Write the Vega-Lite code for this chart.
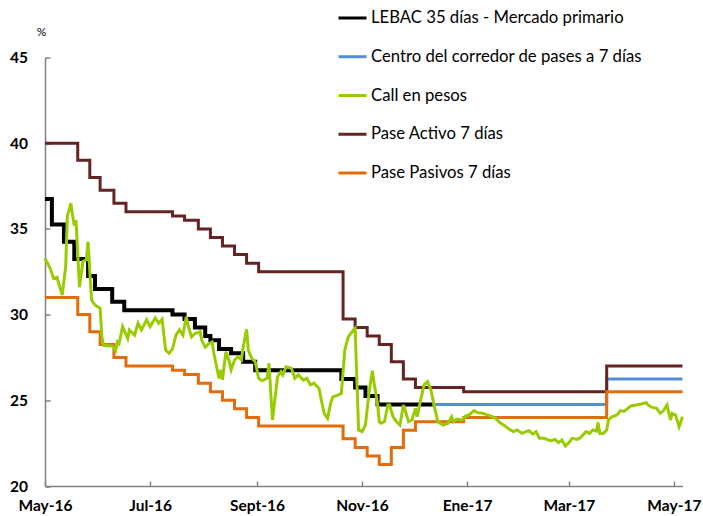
{
  "$schema": "https://vega.github.io/schema/vega-lite/v6.json",
  "width": 637.5,
  "height": 428.5,
  "autosize": {"type": "none"},
  "padding": {"left": 45, "top": 57.5, "right": 20.5, "bottom": 30},
  "background": "white",
  "config": {
    "view": {"stroke": null},
    "font": "Lato",
    "axis": {
      "grid": false,
      "domainColor": "#808080",
      "domainWidth": 1.5,
      "tickColor": "#808080",
      "tickWidth": 1.5,
      "labelFont": "Lato",
      "labelFontWeight": "bold",
      "labelFontSize": 15.5,
      "labelColor": "#000000"
    },
    "legend": {
      "orient": "none",
      "legendX": 292,
      "legendY": -55,
      "direction": "vertical",
      "symbolType": "stroke",
      "symbolSize": 784,
      "symbolStrokeWidth": 3,
      "labelFont": "Lato",
      "labelFontSize": 16.7,
      "labelColor": "#000000",
      "labelOffset": 3,
      "rowPadding": 13.75,
      "padding": 0,
      "labelLimit": 400
    }
  },
  "data": {
    "values": [
      {"s": "LEBAC 35 días - Mercado primario", "d": "2016-05-01", "v": 36.75},
      {"s": "LEBAC 35 días - Mercado primario", "d": "2016-05-05", "v": 35.25},
      {"s": "LEBAC 35 días - Mercado primario", "d": "2016-05-12", "v": 34.25},
      {"s": "LEBAC 35 días - Mercado primario", "d": "2016-05-18", "v": 33.25},
      {"s": "LEBAC 35 días - Mercado primario", "d": "2016-05-26", "v": 32.25},
      {"s": "LEBAC 35 días - Mercado primario", "d": "2016-05-30", "v": 31.5},
      {"s": "LEBAC 35 días - Mercado primario", "d": "2016-06-09", "v": 30.75},
      {"s": "LEBAC 35 días - Mercado primario", "d": "2016-06-16", "v": 30.25},
      {"s": "LEBAC 35 días - Mercado primario", "d": "2016-07-14", "v": 30.0},
      {"s": "LEBAC 35 días - Mercado primario", "d": "2016-07-21", "v": 29.75},
      {"s": "LEBAC 35 días - Mercado primario", "d": "2016-07-27", "v": 29.25},
      {"s": "LEBAC 35 días - Mercado primario", "d": "2016-08-02", "v": 28.75},
      {"s": "LEBAC 35 días - Mercado primario", "d": "2016-08-05", "v": 28.5},
      {"s": "LEBAC 35 días - Mercado primario", "d": "2016-08-10", "v": 28.0},
      {"s": "LEBAC 35 días - Mercado primario", "d": "2016-08-17", "v": 27.75},
      {"s": "LEBAC 35 días - Mercado primario", "d": "2016-08-24", "v": 27.25},
      {"s": "LEBAC 35 días - Mercado primario", "d": "2016-08-31", "v": 26.75},
      {"s": "LEBAC 35 días - Mercado primario", "d": "2016-10-20", "v": 26.25},
      {"s": "LEBAC 35 días - Mercado primario", "d": "2016-10-28", "v": 25.75},
      {"s": "LEBAC 35 días - Mercado primario", "d": "2016-11-03", "v": 25.25},
      {"s": "LEBAC 35 días - Mercado primario", "d": "2016-11-10", "v": 24.75},
      {"s": "LEBAC 35 días - Mercado primario", "d": "2016-12-12", "v": 24.75},

      {"s": "Centro del corredor de pases a 7 días", "d": "2016-12-12", "v": 24.75},
      {"s": "Centro del corredor de pases a 7 días", "d": "2017-03-23", "v": 26.25},
      {"s": "Centro del corredor de pases a 7 días", "d": "2017-05-06", "v": 26.25},

      {"s": "Pase Activo 7 días", "d": "2016-05-01", "v": 40},
      {"s": "Pase Activo 7 días", "d": "2016-05-20", "v": 39},
      {"s": "Pase Activo 7 días", "d": "2016-05-27", "v": 38},
      {"s": "Pase Activo 7 días", "d": "2016-06-02", "v": 37.25},
      {"s": "Pase Activo 7 días", "d": "2016-06-10", "v": 36.5},
      {"s": "Pase Activo 7 días", "d": "2016-06-17", "v": 36},
      {"s": "Pase Activo 7 días", "d": "2016-07-14", "v": 35.75},
      {"s": "Pase Activo 7 días", "d": "2016-07-21", "v": 35.5},
      {"s": "Pase Activo 7 días", "d": "2016-07-29", "v": 35},
      {"s": "Pase Activo 7 días", "d": "2016-08-05", "v": 34.5},
      {"s": "Pase Activo 7 días", "d": "2016-08-12", "v": 34},
      {"s": "Pase Activo 7 días", "d": "2016-08-19", "v": 33.5},
      {"s": "Pase Activo 7 días", "d": "2016-08-26", "v": 33},
      {"s": "Pase Activo 7 días", "d": "2016-09-02", "v": 32.5},
      {"s": "Pase Activo 7 días", "d": "2016-10-21", "v": 29.75},
      {"s": "Pase Activo 7 días", "d": "2016-10-28", "v": 29.25},
      {"s": "Pase Activo 7 días", "d": "2016-11-04", "v": 28.75},
      {"s": "Pase Activo 7 días", "d": "2016-11-11", "v": 28.25},
      {"s": "Pase Activo 7 días", "d": "2016-11-18", "v": 27.25},
      {"s": "Pase Activo 7 días", "d": "2016-11-25", "v": 26.25},
      {"s": "Pase Activo 7 días", "d": "2016-12-02", "v": 25.75},
      {"s": "Pase Activo 7 días", "d": "2016-12-30", "v": 25.5},
      {"s": "Pase Activo 7 días", "d": "2017-03-23", "v": 27},
      {"s": "Pase Activo 7 días", "d": "2017-05-06", "v": 27},

      {"s": "Pase Pasivos 7 días", "d": "2016-05-01", "v": 31},
      {"s": "Pase Pasivos 7 días", "d": "2016-05-20", "v": 30},
      {"s": "Pase Pasivos 7 días", "d": "2016-05-27", "v": 29},
      {"s": "Pase Pasivos 7 días", "d": "2016-06-02", "v": 28.25},
      {"s": "Pase Pasivos 7 días", "d": "2016-06-10", "v": 27.5},
      {"s": "Pase Pasivos 7 días", "d": "2016-06-17", "v": 27},
      {"s": "Pase Pasivos 7 días", "d": "2016-07-14", "v": 26.75},
      {"s": "Pase Pasivos 7 días", "d": "2016-07-21", "v": 26.5},
      {"s": "Pase Pasivos 7 días", "d": "2016-07-29", "v": 26},
      {"s": "Pase Pasivos 7 días", "d": "2016-08-05", "v": 25.5},
      {"s": "Pase Pasivos 7 días", "d": "2016-08-12", "v": 25},
      {"s": "Pase Pasivos 7 días", "d": "2016-08-19", "v": 24.5},
      {"s": "Pase Pasivos 7 días", "d": "2016-08-26", "v": 24},
      {"s": "Pase Pasivos 7 días", "d": "2016-09-02", "v": 23.5},
      {"s": "Pase Pasivos 7 días", "d": "2016-10-21", "v": 22.75},
      {"s": "Pase Pasivos 7 días", "d": "2016-10-28", "v": 22.25},
      {"s": "Pase Pasivos 7 días", "d": "2016-11-04", "v": 21.75},
      {"s": "Pase Pasivos 7 días", "d": "2016-11-11", "v": 21.25},
      {"s": "Pase Pasivos 7 días", "d": "2016-11-18", "v": 22.25},
      {"s": "Pase Pasivos 7 días", "d": "2016-11-25", "v": 23.25},
      {"s": "Pase Pasivos 7 días", "d": "2016-12-02", "v": 23.75},
      {"s": "Pase Pasivos 7 días", "d": "2016-12-30", "v": 24},
      {"s": "Pase Pasivos 7 días", "d": "2017-03-23", "v": 25.5},
      {"s": "Pase Pasivos 7 días", "d": "2017-05-06", "v": 25.5},

      {"s": "Call en pesos", "d": "2016-05-01", "v": 33.28},
      {"s": "Call en pesos", "d": "2016-05-04", "v": 32.7},
      {"s": "Call en pesos", "d": "2016-05-06", "v": 32.1},
      {"s": "Call en pesos", "d": "2016-05-08", "v": 32.18},
      {"s": "Call en pesos", "d": "2016-05-09", "v": 31.8},
      {"s": "Call en pesos", "d": "2016-05-11", "v": 31.14},
      {"s": "Call en pesos", "d": "2016-05-13", "v": 32.8},
      {"s": "Call en pesos", "d": "2016-05-14", "v": 35.8},
      {"s": "Call en pesos", "d": "2016-05-15", "v": 36.1},
      {"s": "Call en pesos", "d": "2016-05-16", "v": 36.5},
      {"s": "Call en pesos", "d": "2016-05-17", "v": 35.8},
      {"s": "Call en pesos", "d": "2016-05-18", "v": 35.2},
      {"s": "Call en pesos", "d": "2016-05-19", "v": 35.5},
      {"s": "Call en pesos", "d": "2016-05-21", "v": 31.6},
      {"s": "Call en pesos", "d": "2016-05-23", "v": 33.1},
      {"s": "Call en pesos", "d": "2016-05-25", "v": 33.2},
      {"s": "Call en pesos", "d": "2016-05-26", "v": 34.25},
      {"s": "Call en pesos", "d": "2016-05-28", "v": 30.85},
      {"s": "Call en pesos", "d": "2016-05-30", "v": 30.56},
      {"s": "Call en pesos", "d": "2016-06-02", "v": 30.37},
      {"s": "Call en pesos", "d": "2016-06-03", "v": 28.7},
      {"s": "Call en pesos", "d": "2016-06-04", "v": 28.2},
      {"s": "Call en pesos", "d": "2016-06-09", "v": 28.17},
      {"s": "Call en pesos", "d": "2016-06-11", "v": 27.9},
      {"s": "Call en pesos", "d": "2016-06-12", "v": 28.4},
      {"s": "Call en pesos", "d": "2016-06-13", "v": 28.3},
      {"s": "Call en pesos", "d": "2016-06-15", "v": 29.3},
      {"s": "Call en pesos", "d": "2016-06-18", "v": 28.6},
      {"s": "Call en pesos", "d": "2016-06-19", "v": 29.1},
      {"s": "Call en pesos", "d": "2016-06-22", "v": 28.8},
      {"s": "Call en pesos", "d": "2016-06-24", "v": 29.5},
      {"s": "Call en pesos", "d": "2016-06-26", "v": 29.1},
      {"s": "Call en pesos", "d": "2016-06-29", "v": 29.7},
      {"s": "Call en pesos", "d": "2016-07-01", "v": 29.3},
      {"s": "Call en pesos", "d": "2016-07-04", "v": 29.8},
      {"s": "Call en pesos", "d": "2016-07-06", "v": 29.5},
      {"s": "Call en pesos", "d": "2016-07-08", "v": 29.73},
      {"s": "Call en pesos", "d": "2016-07-10", "v": 27.93},
      {"s": "Call en pesos", "d": "2016-07-12", "v": 27.74},
      {"s": "Call en pesos", "d": "2016-07-14", "v": 28.0},
      {"s": "Call en pesos", "d": "2016-07-16", "v": 28.8},
      {"s": "Call en pesos", "d": "2016-07-18", "v": 29.1},
      {"s": "Call en pesos", "d": "2016-07-20", "v": 28.8},
      {"s": "Call en pesos", "d": "2016-07-22", "v": 29.88},
      {"s": "Call en pesos", "d": "2016-07-23", "v": 29.4},
      {"s": "Call en pesos", "d": "2016-07-25", "v": 28.7},
      {"s": "Call en pesos", "d": "2016-07-27", "v": 28.9},
      {"s": "Call en pesos", "d": "2016-07-30", "v": 29.0},
      {"s": "Call en pesos", "d": "2016-07-31", "v": 28.5},
      {"s": "Call en pesos", "d": "2016-08-02", "v": 28.1},
      {"s": "Call en pesos", "d": "2016-08-04", "v": 28.3},
      {"s": "Call en pesos", "d": "2016-08-06", "v": 28.4},
      {"s": "Call en pesos", "d": "2016-08-07", "v": 27.74},
      {"s": "Call en pesos", "d": "2016-08-10", "v": 26.28},
      {"s": "Call en pesos", "d": "2016-08-11", "v": 26.77},
      {"s": "Call en pesos", "d": "2016-08-12", "v": 26.2},
      {"s": "Call en pesos", "d": "2016-08-14", "v": 27.84},
      {"s": "Call en pesos", "d": "2016-08-16", "v": 27.25},
      {"s": "Call en pesos", "d": "2016-08-17", "v": 26.77},
      {"s": "Call en pesos", "d": "2016-08-19", "v": 27.35},
      {"s": "Call en pesos", "d": "2016-08-21", "v": 27.54},
      {"s": "Call en pesos", "d": "2016-08-23", "v": 27.35},
      {"s": "Call en pesos", "d": "2016-08-24", "v": 28.1},
      {"s": "Call en pesos", "d": "2016-08-26", "v": 29.14},
      {"s": "Call en pesos", "d": "2016-08-27", "v": 27.93},
      {"s": "Call en pesos", "d": "2016-08-29", "v": 27.45},
      {"s": "Call en pesos", "d": "2016-08-31", "v": 27.25},
      {"s": "Call en pesos", "d": "2016-09-02", "v": 26.28},
      {"s": "Call en pesos", "d": "2016-09-04", "v": 26.14},
      {"s": "Call en pesos", "d": "2016-09-07", "v": 26.3},
      {"s": "Call en pesos", "d": "2016-09-08", "v": 27.16},
      {"s": "Call en pesos", "d": "2016-09-10", "v": 23.85},
      {"s": "Call en pesos", "d": "2016-09-13", "v": 26.38},
      {"s": "Call en pesos", "d": "2016-09-15", "v": 26.67},
      {"s": "Call en pesos", "d": "2016-09-16", "v": 26.48},
      {"s": "Call en pesos", "d": "2016-09-18", "v": 26.96},
      {"s": "Call en pesos", "d": "2016-09-21", "v": 26.87},
      {"s": "Call en pesos", "d": "2016-09-23", "v": 26.28},
      {"s": "Call en pesos", "d": "2016-09-25", "v": 26.48},
      {"s": "Call en pesos", "d": "2016-09-28", "v": 26.18},
      {"s": "Call en pesos", "d": "2016-09-30", "v": 26.28},
      {"s": "Call en pesos", "d": "2016-10-02", "v": 25.9},
      {"s": "Call en pesos", "d": "2016-10-04", "v": 26.0},
      {"s": "Call en pesos", "d": "2016-10-07", "v": 25.7},
      {"s": "Call en pesos", "d": "2016-10-08", "v": 25.2},
      {"s": "Call en pesos", "d": "2016-10-10", "v": 24.24},
      {"s": "Call en pesos", "d": "2016-10-12", "v": 23.95},
      {"s": "Call en pesos", "d": "2016-10-14", "v": 24.92},
      {"s": "Call en pesos", "d": "2016-10-15", "v": 25.2},
      {"s": "Call en pesos", "d": "2016-10-18", "v": 25.3},
      {"s": "Call en pesos", "d": "2016-10-20", "v": 25.4},
      {"s": "Call en pesos", "d": "2016-10-22", "v": 27.93},
      {"s": "Call en pesos", "d": "2016-10-24", "v": 28.7},
      {"s": "Call en pesos", "d": "2016-10-27", "v": 29.1},
      {"s": "Call en pesos", "d": "2016-10-28", "v": 29.2},
      {"s": "Call en pesos", "d": "2016-10-29", "v": 26.18},
      {"s": "Call en pesos", "d": "2016-10-30", "v": 23.27},
      {"s": "Call en pesos", "d": "2016-11-01", "v": 23.17},
      {"s": "Call en pesos", "d": "2016-11-03", "v": 23.56},
      {"s": "Call en pesos", "d": "2016-11-05", "v": 25.4},
      {"s": "Call en pesos", "d": "2016-11-07", "v": 26.73},
      {"s": "Call en pesos", "d": "2016-11-08", "v": 26.0},
      {"s": "Call en pesos", "d": "2016-11-10", "v": 24.8},
      {"s": "Call en pesos", "d": "2016-11-11", "v": 23.75},
      {"s": "Call en pesos", "d": "2016-11-12", "v": 23.66},
      {"s": "Call en pesos", "d": "2016-11-14", "v": 23.75},
      {"s": "Call en pesos", "d": "2016-11-16", "v": 24.73},
      {"s": "Call en pesos", "d": "2016-11-17", "v": 24.73},
      {"s": "Call en pesos", "d": "2016-11-19", "v": 24.04},
      {"s": "Call en pesos", "d": "2016-11-21", "v": 23.75},
      {"s": "Call en pesos", "d": "2016-11-23", "v": 23.56},
      {"s": "Call en pesos", "d": "2016-11-25", "v": 24.73},
      {"s": "Call en pesos", "d": "2016-11-26", "v": 24.43},
      {"s": "Call en pesos", "d": "2016-11-28", "v": 23.75},
      {"s": "Call en pesos", "d": "2016-11-30", "v": 23.85},
      {"s": "Call en pesos", "d": "2016-12-02", "v": 24.53},
      {"s": "Call en pesos", "d": "2016-12-03", "v": 24.04},
      {"s": "Call en pesos", "d": "2016-12-05", "v": 25.0},
      {"s": "Call en pesos", "d": "2016-12-07", "v": 25.9},
      {"s": "Call en pesos", "d": "2016-12-09", "v": 26.09},
      {"s": "Call en pesos", "d": "2016-12-11", "v": 25.6},
      {"s": "Call en pesos", "d": "2016-12-13", "v": 24.63},
      {"s": "Call en pesos", "d": "2016-12-15", "v": 23.75},
      {"s": "Call en pesos", "d": "2016-12-18", "v": 23.56},
      {"s": "Call en pesos", "d": "2016-12-21", "v": 23.66},
      {"s": "Call en pesos", "d": "2016-12-23", "v": 24.04},
      {"s": "Call en pesos", "d": "2016-12-24", "v": 23.75},
      {"s": "Call en pesos", "d": "2016-12-26", "v": 23.9},
      {"s": "Call en pesos", "d": "2016-12-29", "v": 23.85},
      {"s": "Call en pesos", "d": "2016-12-31", "v": 24.08},
      {"s": "Call en pesos", "d": "2017-01-02", "v": 24.14},
      {"s": "Call en pesos", "d": "2017-01-05", "v": 24.4},
      {"s": "Call en pesos", "d": "2017-01-07", "v": 24.28},
      {"s": "Call en pesos", "d": "2017-01-10", "v": 24.25},
      {"s": "Call en pesos", "d": "2017-01-13", "v": 24.14},
      {"s": "Call en pesos", "d": "2017-01-16", "v": 24.04},
      {"s": "Call en pesos", "d": "2017-01-18", "v": 23.9},
      {"s": "Call en pesos", "d": "2017-01-20", "v": 23.7},
      {"s": "Call en pesos", "d": "2017-01-23", "v": 23.5},
      {"s": "Call en pesos", "d": "2017-01-26", "v": 23.27},
      {"s": "Call en pesos", "d": "2017-01-28", "v": 23.17},
      {"s": "Call en pesos", "d": "2017-01-30", "v": 23.27},
      {"s": "Call en pesos", "d": "2017-02-02", "v": 23.07},
      {"s": "Call en pesos", "d": "2017-02-04", "v": 23.17},
      {"s": "Call en pesos", "d": "2017-02-06", "v": 23.23},
      {"s": "Call en pesos", "d": "2017-02-08", "v": 23.03},
      {"s": "Call en pesos", "d": "2017-02-10", "v": 23.17},
      {"s": "Call en pesos", "d": "2017-02-12", "v": 22.78},
      {"s": "Call en pesos", "d": "2017-02-15", "v": 22.78},
      {"s": "Call en pesos", "d": "2017-02-17", "v": 22.68},
      {"s": "Call en pesos", "d": "2017-02-19", "v": 22.64},
      {"s": "Call en pesos", "d": "2017-02-21", "v": 22.72},
      {"s": "Call en pesos", "d": "2017-02-23", "v": 22.53},
      {"s": "Call en pesos", "d": "2017-02-25", "v": 22.68},
      {"s": "Call en pesos", "d": "2017-02-27", "v": 22.33},
      {"s": "Call en pesos", "d": "2017-03-01", "v": 22.53},
      {"s": "Call en pesos", "d": "2017-03-03", "v": 22.78},
      {"s": "Call en pesos", "d": "2017-03-06", "v": 22.72},
      {"s": "Call en pesos", "d": "2017-03-08", "v": 22.84},
      {"s": "Call en pesos", "d": "2017-03-11", "v": 23.17},
      {"s": "Call en pesos", "d": "2017-03-13", "v": 23.07},
      {"s": "Call en pesos", "d": "2017-03-15", "v": 23.27},
      {"s": "Call en pesos", "d": "2017-03-17", "v": 23.2},
      {"s": "Call en pesos", "d": "2017-03-18", "v": 23.7},
      {"s": "Call en pesos", "d": "2017-03-19", "v": 23.07},
      {"s": "Call en pesos", "d": "2017-03-21", "v": 23.07},
      {"s": "Call en pesos", "d": "2017-03-23", "v": 23.27},
      {"s": "Call en pesos", "d": "2017-03-24", "v": 23.85},
      {"s": "Call en pesos", "d": "2017-03-26", "v": 24.04},
      {"s": "Call en pesos", "d": "2017-03-29", "v": 24.14},
      {"s": "Call en pesos", "d": "2017-03-31", "v": 24.4},
      {"s": "Call en pesos", "d": "2017-04-02", "v": 24.35},
      {"s": "Call en pesos", "d": "2017-04-05", "v": 24.59},
      {"s": "Call en pesos", "d": "2017-04-06", "v": 24.67},
      {"s": "Call en pesos", "d": "2017-04-09", "v": 24.73},
      {"s": "Call en pesos", "d": "2017-04-12", "v": 24.78},
      {"s": "Call en pesos", "d": "2017-04-15", "v": 24.86},
      {"s": "Call en pesos", "d": "2017-04-16", "v": 24.73},
      {"s": "Call en pesos", "d": "2017-04-18", "v": 24.6},
      {"s": "Call en pesos", "d": "2017-04-21", "v": 24.53},
      {"s": "Call en pesos", "d": "2017-04-23", "v": 24.24},
      {"s": "Call en pesos", "d": "2017-04-25", "v": 24.4},
      {"s": "Call en pesos", "d": "2017-04-27", "v": 24.73},
      {"s": "Call en pesos", "d": "2017-04-29", "v": 23.85},
      {"s": "Call en pesos", "d": "2017-04-30", "v": 24.24},
      {"s": "Call en pesos", "d": "2017-05-02", "v": 24.14},
      {"s": "Call en pesos", "d": "2017-05-04", "v": 23.45},
      {"s": "Call en pesos", "d": "2017-05-06", "v": 24.04}
    ]
  },
  "encoding": {
    "x": {
      "field": "d",
      "type": "temporal",
      "scale": {
        "type": "utc",
        "domain": [
          {"year": 2016, "month": 5, "date": 1, "utc": true},
          {"year": 2017, "month": 5, "date": 6, "utc": true}
        ]
      },
      "axis": {
        "title": null,
        "values": [
          {"year": 2016, "month": 5, "date": 1, "utc": true},
          {"year": 2016, "month": 7, "date": 1, "utc": true},
          {"year": 2016, "month": 9, "date": 1, "utc": true},
          {"year": 2016, "month": 11, "date": 1, "utc": true},
          {"year": 2017, "month": 1, "date": 1, "utc": true},
          {"year": 2017, "month": 3, "date": 1, "utc": true},
          {"year": 2017, "month": 5, "date": 1, "utc": true}
        ],
        "labelExpr": "(utcmonth(datum.value)==4?'May':utcmonth(datum.value)==6?'Jul':utcmonth(datum.value)==8?'Sept':utcmonth(datum.value)==10?'Nov':utcmonth(datum.value)==0?'Ene':'Mar') + '-' + utcFormat(datum.value,'%y')",
        "tickSize": -5,
        "labelPadding": 17,
        "labelFlush": false,
        "labelOverlap": false
      }
    },
    "y": {
      "field": "v",
      "type": "quantitative",
      "scale": {"domain": [20, 45], "nice": false, "zero": false},
      "axis": {
        "title": "%",
        "values": [20, 25, 30, 35, 40, 45],
        "tickSize": -5,
        "labelPadding": 22.5,
        "titleAngle": 0,
        "titleX": -4,
        "titleY": -26,
        "titleFont": "Lato",
        "titleFontSize": 12,
        "titleFontWeight": "normal",
        "titleAlign": "center",
        "titleBaseline": "middle",
        "titleColor": "#000000"
      }
    },
    "color": {
      "field": "s",
      "type": "nominal",
      "scale": {
        "domain": [
          "LEBAC 35 días - Mercado primario",
          "Centro del corredor de pases a 7 días",
          "Call en pesos",
          "Pase Activo 7 días",
          "Pase Pasivos 7 días"
        ],
        "range": ["#000000", "#558ED5", "#99CC00", "#632523", "#E46C0A"]
      },
      "legend": {"title": null}
    }
  },
  "layer": [
    {
      "transform": [{"filter": "datum.s === 'Centro del corredor de pases a 7 días' || datum.s === 'Pase Activo 7 días' || datum.s === 'Pase Pasivos 7 días'"}],
      "mark": {"type": "line", "interpolate": "step-after", "strokeWidth": 3}
    },
    {
      "transform": [{"filter": "datum.s === 'LEBAC 35 días - Mercado primario'"}],
      "mark": {"type": "line", "interpolate": "step-after", "strokeWidth": 4}
    },
    {
      "transform": [{"filter": "datum.s === 'Call en pesos'"}],
      "mark": {"type": "line", "strokeWidth": 3}
    }
  ]
}
